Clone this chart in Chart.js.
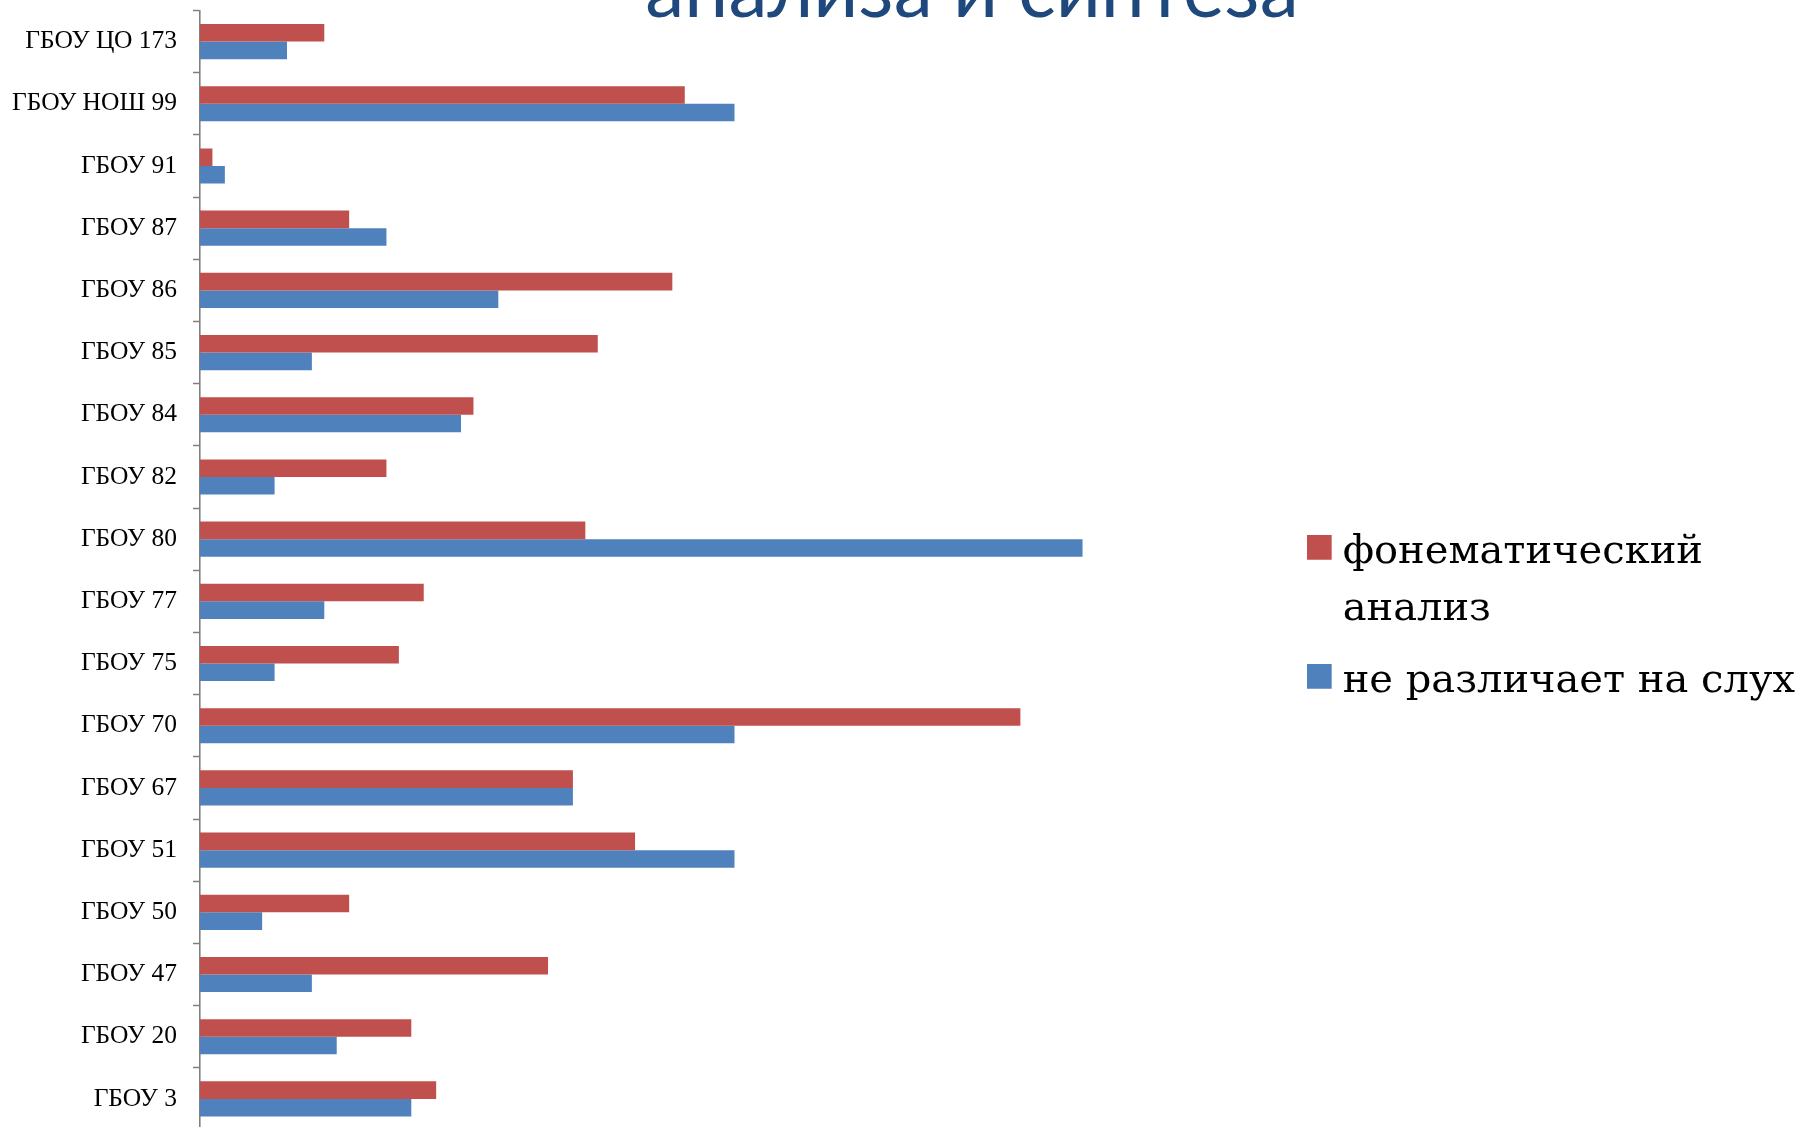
<!DOCTYPE html>
<html>
<head>
<meta charset="utf-8">
<script src="https://cdn.jsdelivr.net/npm/chart.js@4/dist/chart.umd.min.js"></script>
<style>
  html, body { margin: 0; padding: 0; background: #ffffff; overflow: hidden; }
  #wrap { position: relative; width: 1799px; height: 1130px; }
</style>
</head>
<body>
<div id="wrap"><canvas id="c"></canvas></div>
<script>
const titleText = 'анализа и синтеза';
const categories = ['ГБОУ ЦО 173', 'ГБОУ НОШ 99', 'ГБОУ 91', 'ГБОУ 87', 'ГБОУ 86', 'ГБОУ 85',
  'ГБОУ 84', 'ГБОУ 82', 'ГБОУ 80', 'ГБОУ 77', 'ГБОУ 75', 'ГБОУ 70', 'ГБОУ 67', 'ГБОУ 51',
  'ГБОУ 50', 'ГБОУ 47', 'ГБОУ 20', 'ГБОУ 3'];
const seriesNames = [['фонематический', 'анализ'], 'не различает на слух'];
const phonemicAnalysis = [10, 39, 1, 12, 38, 32, 22, 15, 31, 18, 16, 66, 30, 35, 12, 28, 17, 19];
const notByEar = [7, 43, 2, 15, 24, 9, 21, 6, 71, 10, 6, 43, 30, 43, 5, 9, 11, 17];
const seriesColors = ['#C0504D', '#4F81BD'];

const PX_PER_UNIT = 12.43;

// legend swatch: 25x25 square placed in the upper-left of a slightly larger transparent canvas
function swatch(color) {
  const c = document.createElement('canvas');
  c.width = 29; c.height = 35;
  const g = c.getContext('2d');
  g.fillStyle = color;
  g.fillRect(0, 0, 25, 25);
  return c;
}

const slideTitle = {
  id: 'slideTitle',
  afterDraw(chart) {
    const ctx = chart.ctx;
    ctx.save();
    ctx.font = '78.5px Lato';
    ctx.fillStyle = '#1F497D';
    ctx.textAlign = 'center';
    ctx.textBaseline = 'alphabetic';
    ctx.fillText(titleText, 972, 16.5);
    ctx.restore();
  }
};

const legendShift = {
  id: 'legendShift',
  afterLayout(chart) {
    const l = chart.legend;
    if (l) { l.top += 46.5; l.bottom += 46.5; }
  }
};

const chart = new Chart(document.getElementById('c'), {
  type: 'bar',
  data: {
    labels: categories,
    datasets: [
      { label: seriesNames[0], data: phonemicAnalysis, backgroundColor: seriesColors[0], borderWidth: 0 },
      { label: seriesNames[1], data: notByEar, backgroundColor: seriesColors[1], borderWidth: 0 }
    ]
  },
  options: {
    indexAxis: 'y',
    responsive: true,
    maintainAspectRatio: false,
    animation: false,
    categoryPercentage: 0.565,
    barPercentage: 1.0,
    layout: { padding: { top: 10.5, bottom: 0, left: 0, right: -6 } },
    scales: {
      x: { display: false, min: 0, max: 80 },
      y: {
        afterFit(scale) { scale.width = 200; scale.paddingTop = 0; scale.paddingBottom = 0; },
        grid: { drawOnChartArea: false, drawTicks: true, tickLength: 7, tickWidth: 1.5, color: '#808080', offset: true },
        border: { display: true, color: '#808080', width: 1.6 },
        ticks: { color: '#000000', padding: 16, font: { family: 'Liberation Serif', size: 25.5 } }
      }
    },
    plugins: {
      title: { display: false },
      tooltip: { enabled: false },
      legend: {
        position: 'right',
        align: 'center',
        maxWidth: 700,
        labels: {
          usePointStyle: true,
          pointStyleWidth: 3,
          boxWidth: 25,
          boxHeight: 25,
          padding: 15,
          color: '#000000',
          font: { family: 'DejaVu Serif', size: 40, lineHeight: 1.425 },
          generateLabels(chart) {
            const items = Chart.defaults.plugins.legend.labels.generateLabels(chart);
            items.forEach((it, i) => { it.pointStyle = swatch(seriesColors[i]); });
            return items;
          }
        }
      }
    }
  },
  plugins: [slideTitle, legendShift]
});

chart.options.scales.x.max = (chart.chartArea.right - chart.chartArea.left) / PX_PER_UNIT;
chart.update('none');
</script>
</body>
</html>
